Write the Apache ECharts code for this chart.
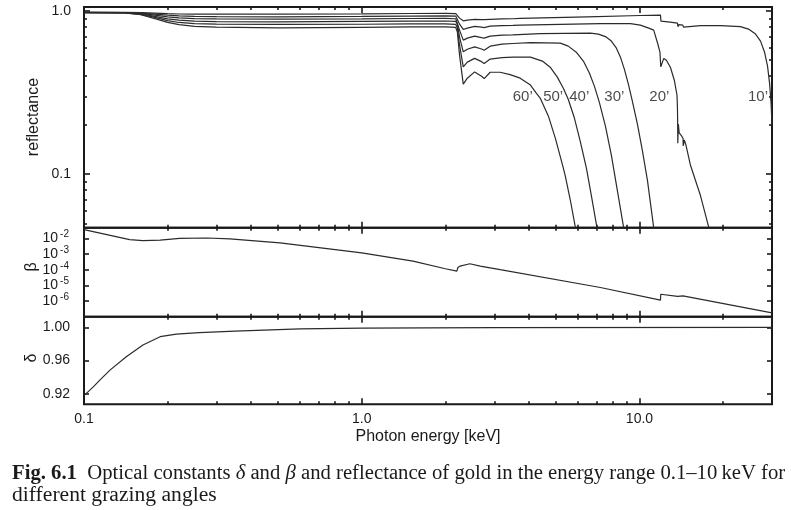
<!DOCTYPE html>
<html><head><meta charset="utf-8">
<script src="https://cdn.jsdelivr.net/npm/echarts@6/dist/echarts.min.js"></script>
<style>html,body{margin:0;padding:0;background:#fff}#c{width:791px;height:510px}</style>
</head><body><div id="c"></div>
<script>
// ---------- data ----------
// Reflectance of gold for grazing angles (energy in keV)
const e10 = [0.1,0.14,0.16,0.18,0.2,0.22,0.25,0.3,0.5,1.0,1.5,2.0,2.18,2.21,2.25,2.32,2.4,2.55,2.7,2.76,2.9,3.2,3.5,3.72,6.48,10.07,11.9,11.95,12.1,12.9,13.7,13.76,13.85,14.33,14.4,14.6,16.58,19.57,23.1,24.69,26.17,27.28,28.2,28.91,29.4,29.77,30];
const r10 = [0.983,0.982,0.979,0.972,0.965,0.960,0.959,0.959,0.959,0.963,0.967,0.968,0.965,0.952,0.906,0.872,0.881,0.889,0.888,0.886,0.891,0.896,0.898,0.902,0.923,0.940,0.945,0.868,0.881,0.856,0.844,0.803,0.826,0.821,0.798,0.809,0.815,0.815,0.803,0.776,0.723,0.655,0.560,0.460,0.362,0.273,0.200];
const e20 = [0.1,0.14,0.16,0.18,0.2,0.22,0.25,0.3,0.5,1.0,1.5,2.0,2.18,2.21,2.25,2.32,2.4,2.55,2.7,2.76,2.9,3.2,3.5,3.72,7.23,9.28,10.07,10.8,11.25,11.63,11.85,11.93,12.23,12.5,12.92,13.35,13.65,13.7,13.72,13.74,13.8,13.9,14.2,14.35,14.37,14.5,14.7,15.25,16.58,17.77];
const r20 = [0.982,0.980,0.974,0.959,0.945,0.936,0.929,0.925,0.923,0.928,0.933,0.936,0.932,0.912,0.832,0.772,0.787,0.807,0.798,0.792,0.809,0.815,0.818,0.821,0.838,0.838,0.821,0.787,0.765,0.633,0.560,0.455,0.513,0.500,0.453,0.377,0.305,0.254,0.211,0.155,0.203,0.179,0.171,0.166,0.149,0.162,0.151,0.114,0.074,0.047];
const e30 = [0.1,0.14,0.16,0.18,0.2,0.22,0.25,0.3,0.5,1.0,1.5,2.0,2.18,2.21,2.25,2.32,2.4,2.55,2.7,2.76,2.9,3.2,3.5,4.39,6.65,7.11,7.54,7.92,8.26,8.54,8.82,9.12,9.43,9.83,10.24,10.68,11.25];
const r30 = [0.982,0.979,0.968,0.945,0.921,0.908,0.900,0.896,0.893,0.897,0.901,0.902,0.898,0.874,0.765,0.664,0.683,0.702,0.688,0.683,0.702,0.712,0.715,0.728,0.733,0.723,0.698,0.655,0.593,0.522,0.441,0.357,0.280,0.203,0.140,0.092,0.047];
const e40 = [0.1,0.14,0.16,0.18,0.2,0.22,0.25,0.3,0.5,1.0,1.5,2.0,2.18,2.21,2.25,2.32,2.4,2.55,2.7,2.76,2.9,3.2,3.5,4.05,5.19,5.54,5.92,6.28,6.6,6.88,7.17,7.54,7.92,8.32,8.77];
const r40 = [0.980,0.978,0.963,0.929,0.897,0.881,0.868,0.863,0.860,0.865,0.868,0.870,0.865,0.832,0.693,0.563,0.584,0.604,0.586,0.576,0.610,0.627,0.633,0.641,0.636,0.610,0.560,0.494,0.417,0.347,0.276,0.197,0.131,0.080,0.047];
const e50 = [0.1,0.14,0.16,0.18,0.2,0.22,0.25,0.3,0.5,1.0,1.5,2.0,2.18,2.21,2.25,2.32,2.4,2.55,2.7,2.76,2.9,3.2,3.5,4.05,4.47,4.77,5.06,5.32,5.54,5.83,6.12,6.44,6.71,7.03];
const r50 = [0.980,0.976,0.956,0.915,0.874,0.852,0.838,0.832,0.829,0.831,0.835,0.836,0.830,0.787,0.618,0.455,0.487,0.513,0.490,0.478,0.508,0.519,0.522,0.522,0.494,0.453,0.394,0.337,0.288,0.221,0.159,0.109,0.074,0.047];
const e60 = [0.1,0.14,0.16,0.18,0.2,0.22,0.25,0.3,0.5,1.0,1.5,2.0,2.18,2.21,2.25,2.32,2.4,2.55,2.7,2.76,2.9,3.15,3.42,3.72,4.05,4.25,4.39,4.7,4.98,5.32,5.41,5.64,5.88];
const r60 = [0.979,0.975,0.950,0.900,0.853,0.826,0.806,0.798,0.790,0.796,0.800,0.801,0.794,0.743,0.537,0.357,0.388,0.424,0.399,0.386,0.422,0.422,0.408,0.388,0.352,0.314,0.293,0.227,0.166,0.109,0.097,0.069,0.047];

// beta
const betaE = [0.1,0.146,0.163,0.188,0.221,0.277,0.335,0.508,1.0,1.53,2.0,2.2,2.22,2.26,2.45,2.67,3.15,7.23,11.9,11.93,13.72,13.74,14.34,14.36,30];
const betaV = [0.0372,0.00871,0.00741,0.00794,0.01023,0.01096,0.00955,0.00537,0.00123,3.63e-4,1.17e-4,8.3e-5,1.41e-4,1.74e-4,2.45e-4,1.74e-4,1.02e-4,7.41e-6,1.15e-6,2.75e-6,2.0e-6,2.4e-6,2.14e-6,2.34e-6,1.74e-7];

// delta
const deltaE = [0.1,0.108,0.114,0.124,0.142,0.163,0.188,0.215,0.26,0.35,0.6,1.0,3.0,30];
const deltaV = [0.918,0.9285,0.9366,0.9486,0.9646,0.9787,0.9887,0.9919,0.9935,0.9955,0.998,0.999,0.9997,1.0];

// curve labels
const angleNames = ['60\u2019','50\u2019','40\u2019','30\u2019','20\u2019','10\u2019'];
const angleLabelE = [3.80,4.89,6.07,8.12,11.79,26.72];
const angleLabelR = [0.3,0.3,0.3,0.3,0.3,0.3];

// ticks
const xLabelPos = [0.1,1,10];
const xTickLabels = ['0.1','1.0','10.0'];
const xMajorTicks = [1,10];
const xMinorTicks = [0.2,0.3,0.4,0.5,0.6,0.7,0.8,0.9,2,3,4,5,6,7,8,9,20];
const rLabelPos = [0.1,1.0];
const rTickLabels = ['0.1','1.0'];
const rMinorTicks = [0.05,0.06,0.07,0.08,0.09,0.2,0.3,0.4,0.5,0.6,0.7,0.8,0.9];
const betaTickPos = [1e-2,1e-3,1e-4,1e-5,1e-6];
const betaTickExp = ['-2','-3','-4','-5','-6'];
const deltaTickPos = [0.92,0.96,1.00];
const deltaTickLabels = ['0.92','0.96','1.00'];

// ---------- chart ----------
const L = Math.log10;
const FONT = 'Liberation Sans, Arial, Helvetica, sans-serif';
const SERIF = 'Liberation Serif, Times New Roman, serif';
const INK = '#1a1a1a';
const LINE = '#2b2b2b';
const XMIN = -1, XMAX = L(30);
const RMIN = L(0.047), RMAX = L(1.06);
const BMIN = -7, BMAX = L(0.05);
const DMIN = 0.9076, DMAX = 1.0127;

const grids = [
  {left:84, right:19, top:7, height:220.7},
  {left:84, right:19, top:227.7, height:89},
  {left:84, right:19, top:316.7, height:87.6}
].map(g => Object.assign(g, {show:true, borderColor:INK, borderWidth:2, backgroundColor:'transparent'}));

function ax(g, pos, min, max, vals, len, label) {
  return {
    type:'value', gridIndex:g, position:pos, min:min, max:max,
    axisLine:{show:false, onZero:false}, splitLine:{show:false},
    axisTick:{show: vals.length>0 && len>0, inside:true, interval:0, length:len||1, customValues: vals.length? vals : undefined,
      lineStyle:{color:INK, width:1.6}},
    axisLabel: label || {show:false}
  };
}
const labStyle = {fontSize:14, color:INK, fontFamily:FONT, interval:0, hideOverlap:false, showMinLabel:true, showMaxLabel:true};
const xLabel = Object.assign({show:true, margin:8, customValues:xLabelPos.map(L),
  formatter: v => xTickLabels[xLabelPos.findIndex(p => Math.abs(L(p)-v) < 1e-6)] || ''}, labStyle);

const xAxes = [];
for (let g = 0; g < 3; g++) {
  xAxes.push(ax(g,'bottom',XMIN,XMAX,xMajorTicks.map(L),6, g===2 ? xLabel : null));
  xAxes.push(ax(g,'bottom',XMIN,XMAX,xMinorTicks.map(L),3));
  xAxes.push(ax(g,'top',XMIN,XMAX,xMajorTicks.map(L),6));
  xAxes.push(ax(g,'top',XMIN,XMAX,xMinorTicks.map(L),3));
}
const rLabel = Object.assign({show:true, margin:13, customValues:rLabelPos.map(L),
  formatter: v => rTickLabels[rLabelPos.findIndex(p => Math.abs(L(p)-v) < 1e-6)] || ''}, labStyle);
const betaIdx = v => betaTickPos.findIndex(p => Math.abs(L(p)-v) < 1e-6);
const bBaseLabel = Object.assign({}, labStyle, {show:true, margin:26, lineHeight:12, customValues:betaTickPos.map(L),
  formatter: v => betaIdx(v) >= 0 ? '10' : ''});
const bExpLabel = Object.assign({}, labStyle, {show:true, margin:15, fontSize:10, lineHeight:8, verticalAlign:'bottom',
  customValues:betaTickPos.map(L), formatter: v => betaIdx(v) >= 0 ? betaTickExp[betaIdx(v)] : ''});
const dLabel = Object.assign({show:true, margin:14, customValues:deltaTickPos,
  formatter: v => deltaTickLabels[deltaTickPos.findIndex(p => Math.abs(p-v) < 1e-6)] || ''}, labStyle);

const yAxes = [
  ax(0,'left',RMIN,RMAX,rLabelPos.map(L),6,rLabel),
  ax(0,'left',RMIN,RMAX,rMinorTicks.map(L),3),
  ax(0,'right',RMIN,RMAX,rLabelPos.map(L),6),
  ax(0,'right',RMIN,RMAX,rMinorTicks.map(L),3),
  ax(1,'left',BMIN,BMAX,betaTickPos.map(L),5,bBaseLabel),
  ax(1,'right',BMIN,BMAX,betaTickPos.map(L),5),
  ax(2,'left',DMIN,DMAX,deltaTickPos,5,dLabel),
  ax(2,'right',DMIN,DMAX,deltaTickPos,5),
  ax(1,'left',BMIN,BMAX,[],0,bExpLabel)
];

function logPairs(E, V) { return E.map((e,i) => [L(e), L(V[i])]); }
function lineSeries(data, xi, yi) {
  return {type:'line', xAxisIndex:xi, yAxisIndex:yi, data:data, showSymbol:false, symbol:'none',
    lineStyle:{color:LINE, width:1.2}, silent:true, animation:false, z:3};
}
const reflSets = [[e10,r10],[e20,r20],[e30,r30],[e40,r40],[e50,r50],[e60,r60]];
const series = reflSets.map(s => lineSeries(logPairs(s[0], s[1]), 0, 0));
series.push(lineSeries(logPairs(betaE, betaV), 4, 4));
series.push(lineSeries(deltaE.map((e,i) => [L(e), deltaV[i]]), 8, 6));
series.push({type:'scatter', xAxisIndex:0, yAxisIndex:0, symbolSize:0, silent:true, animation:false,
  data: angleNames.map((n,i) => ({name:n, value:[L(angleLabelE[i]), L(angleLabelR[i])]})),
  label:{show:true, position:'inside', formatter:'{b}', fontSize:15, color:INK, fontFamily:FONT}});

const chart = echarts.init(document.getElementById('c'), null, {renderer:'canvas'});
chart.setOption({
  animation:false,
  backgroundColor:'#fff',
  textStyle:{fontFamily:FONT},
  grid:grids, xAxis:xAxes, yAxis:yAxes, series:series,
  graphic:[
    {type:'text', x:34, y:117, rotation:Math.PI/2, style:{text:'reflectance', fontSize:16, fontFamily:FONT, fill:INK, align:'center', verticalAlign:'middle'}},
    {type:'text', x:32, y:267, rotation:Math.PI/2, style:{text:'\u03b2', fontSize:16, fontFamily:FONT, fill:INK, align:'center', verticalAlign:'middle'}},
    {type:'text', x:32, y:358, rotation:Math.PI/2, style:{text:'\u03b4', fontSize:16, fontFamily:FONT, fill:INK, align:'center', verticalAlign:'middle'}},
    {type:'text', x:428, y:437, style:{text:'Photon energy [keV]', fontSize:16, fontFamily:FONT, fill:INK, align:'center', verticalAlign:'middle'}},
    {type:'text', x:12, y:474, scaleX:1.035, style:{
      text:'{b|Fig. 6.1}  Optical constants {i|\u03b4} and {i|\u03b2} and reflectance of gold in the energy range 0.1\u201310\u2009keV for',
      fontSize:20, fontFamily:SERIF, fill:INK, align:'left', verticalAlign:'middle',
      rich:{b:{fontSize:20, fontFamily:SERIF, fontWeight:'bold', fill:INK}, i:{fontSize:20, fontFamily:SERIF, fontStyle:'italic', fill:INK}}}},
    {type:'text', x:12, y:496, scaleX:1.08, style:{text:'different grazing angles', fontSize:20, fontFamily:SERIF, fill:INK, align:'left', verticalAlign:'middle'}}
  ]
});
</script></body></html>
